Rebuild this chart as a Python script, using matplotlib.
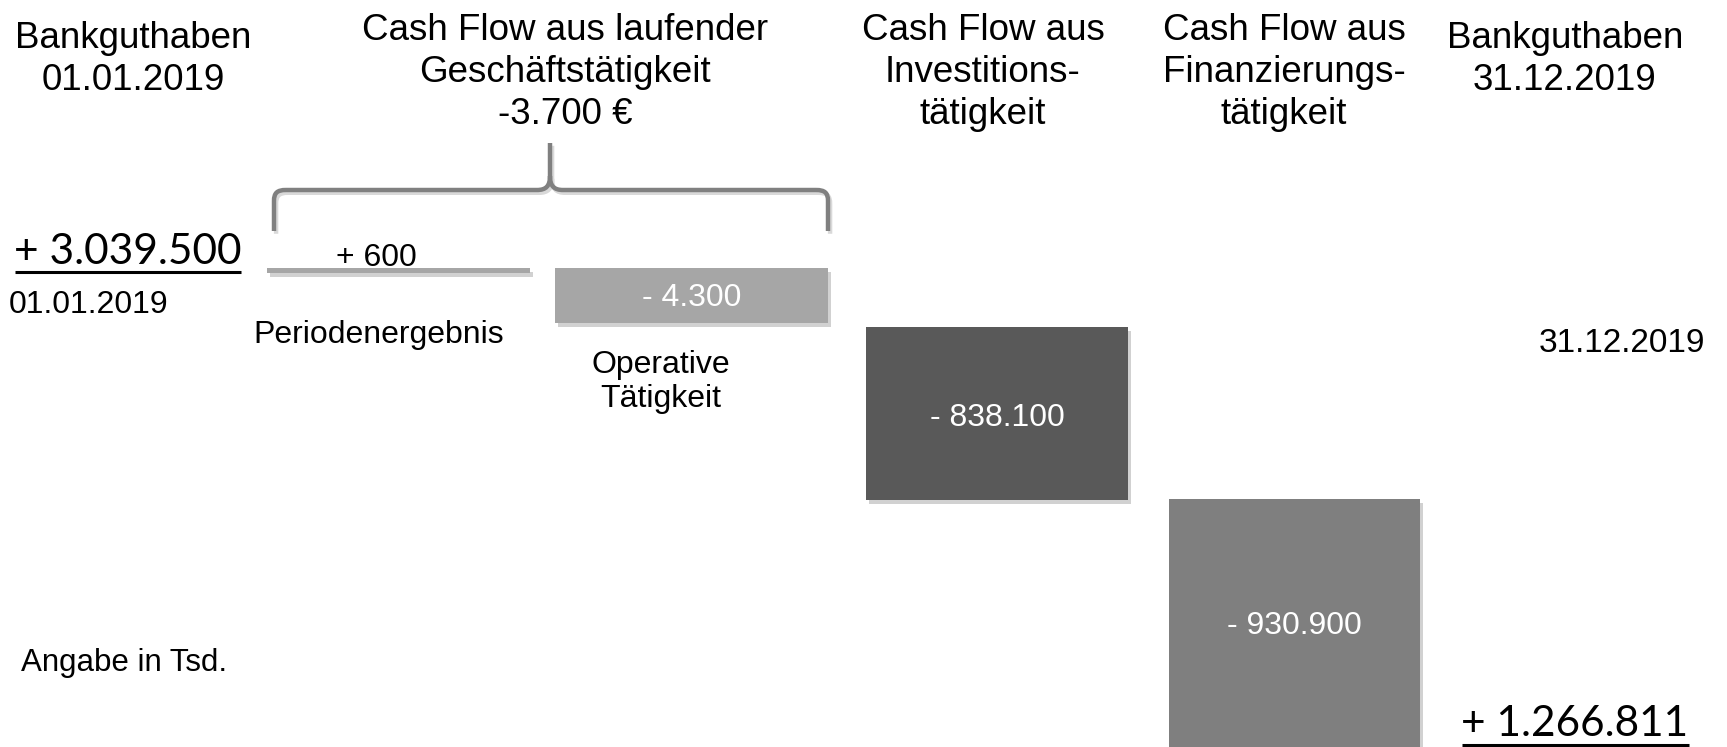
import matplotlib
matplotlib.use("Agg")
import matplotlib.pyplot as plt
import matplotlib.patheffects as pe
from matplotlib.path import Path
from matplotlib.patches import PathPatch

# ==== data (Tsd. €) ====
start_balance = 3039500
end_balance = 1266811
start_date = "01.01.2019"
end_date = "31.12.2019"
cf_operating = -3700

headers = [
    "Bankguthaben\n01.01.2019",
    "Cash Flow aus laufender\nGeschäftstätigkeit\n{}",
    "Cash Flow aus\nInvestitions-\ntätigkeit",
    "Cash Flow aus\nFinanzierungs-\ntätigkeit",
    "Bankguthaben\n31.12.2019",
]
step_names = ["Periodenergebnis", "Operative\nTätigkeit", "Investitionen", "Finanzierung"]
step_values = [600, -4300, -838100, -930900]
step_colors = ["#a6a6a6", "#a6a6a6", "#595959", "#7f7f7f"]

# ==== layout (schematic, picture pixels; heights are not to scale) ====
W, H = 1727, 747
header_x = [133, 565, 983, 1284, 1565]
header_top = [21, 13, 13, 13, 21]
step_left = [267, 555, 866, 1169]
step_right = [530, 828, 1128, 1420]
step_top = [267.5, 268, 327, 499]
step_bottom = [272.5, 323, 500, 760]
label_y = [258, 298.5, 418.5, 625.5]


def fmt(v, space=True):
    s = f"{abs(v):,}".replace(",", ".")
    sign = "+" if v >= 0 else "-"
    return f"{sign} {s}" if space else f"{sign}{s}"


FONT = "Liberation Sans"
NUM_FONT = "Lato"

fig = plt.figure(figsize=(W / 100, H / 100), dpi=100)
ax = fig.add_axes([0, 0, 1, 1])
ax.set_xlim(0, W)
ax.set_ylim(H, 0)
ax.axis("off")

# Überschriften
headers[1] = headers[1].format(fmt(cf_operating, space=False) + " €")
for x, y, txt in zip(header_x, header_top, headers):
    ax.text(x, y, txt, ha="center", va="top", fontsize=26.5,
            family=FONT, linespacing=1.25)

# Balken (Wasserfall)
centers = [(l + r) / 2 for l, r in zip(step_left, step_right)]
widths = [r - l for l, r in zip(step_left, step_right)]
heights = [b - t for t, b in zip(step_top, step_bottom)]
bars = ax.bar(centers, heights, width=widths, bottom=step_top,
              color=step_colors, linewidth=0)
for b in bars:
    b.set_path_effects([pe.SimplePatchShadow(offset=(2, -3), shadow_rgbFace="k", alpha=0.18),
                        pe.Normal()])

# Werte
for i, v in enumerate(step_values):
    if i == 0:
        ax.text(centers[i] - 22, label_y[i], fmt(v), ha="center", va="center",
                fontsize=23, family=FONT)
        ax.text(centers[i] - 20, 335, step_names[i], ha="center", va="center",
                fontsize=23, family=FONT)
    else:
        ax.text(centers[i], label_y[i], fmt(v), ha="center", va="center",
                fontsize=23, family=FONT, color="white")
ax.text(661, 382, step_names[1], ha="center", va="center", fontsize=23,
        family=FONT, linespacing=1.19)

# Klammer über laufender Geschäftstätigkeit
verts = [(274, 231), (274, 201), (274, 193), (277, 190), (286, 190), (537, 190),
         (546, 190), (550, 186), (550, 176), (550, 143),
         (828, 231), (828, 201), (828, 193), (825, 190), (816, 190), (563, 190),
         (554, 190), (550, 186), (550, 176)]
codes = [Path.MOVETO, Path.LINETO, Path.CURVE4, Path.CURVE4, Path.CURVE4, Path.LINETO,
         Path.CURVE4, Path.CURVE4, Path.CURVE4, Path.LINETO,
         Path.MOVETO, Path.LINETO, Path.CURVE4, Path.CURVE4, Path.CURVE4, Path.LINETO,
         Path.CURVE4, Path.CURVE4, Path.CURVE4]
brace = PathPatch(Path(verts, codes), facecolor="none", edgecolor="#808080",
                  linewidth=3.2, capstyle="butt", joinstyle="round")
brace.set_path_effects([pe.SimpleLineShadow(offset=(1.5, -2), shadow_color="k", alpha=0.15),
                        pe.Normal()])
ax.add_patch(brace)

# Anfangs- und Endbestand (unterstrichen)
ax.text(128, 264, fmt(start_balance), ha="center", va="baseline", fontsize=30.5, family=NUM_FONT)
ax.plot([15, 241], [272, 272], color="black", linewidth=2.2, solid_capstyle="butt")
ax.text(9, 305, start_date, ha="left", va="center", fontsize=23, family=FONT)

ax.text(1575, 736, fmt(end_balance), ha="center", va="baseline", fontsize=30.5, family=NUM_FONT)
ax.plot([1462, 1689], [745, 745], color="black", linewidth=2.2, solid_capstyle="butt")
ax.text(1622, 344, end_date, ha="center", va="center", fontsize=24, family=FONT)

ax.text(21, 663, "Angabe in Tsd.", ha="left", va="center", fontsize=22.5, family=FONT)

fig.savefig("out.png", dpi=100, facecolor="white")
